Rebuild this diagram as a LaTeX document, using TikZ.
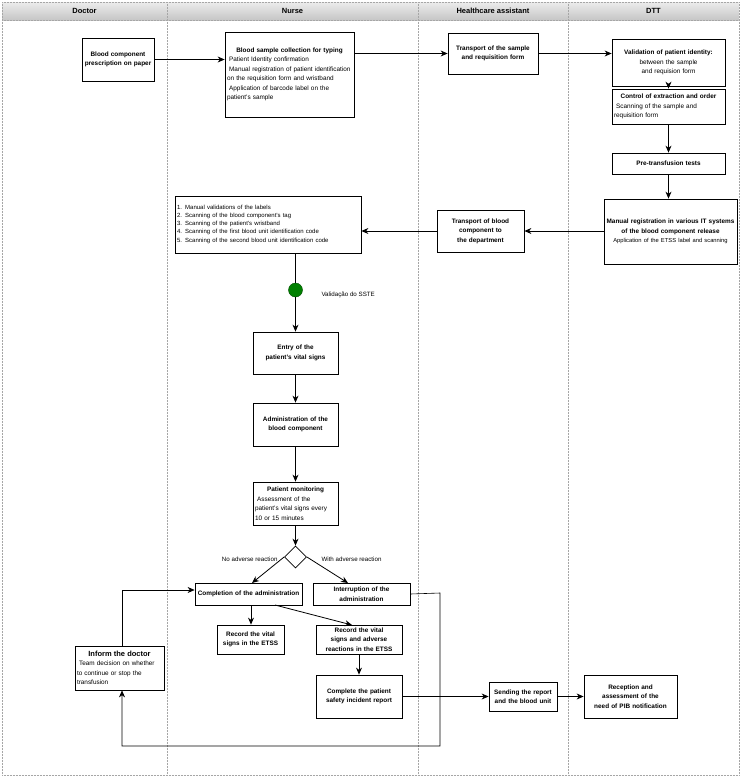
\documentclass[tikz,border=0pt]{standalone}
\usepackage{fontspec}
\setmainfont{Liberation Sans}
\usetikzlibrary{arrows.meta,shapes.geometric}
\hyphenpenalty=10000 \exhyphenpenalty=10000
\begin{document}
\begin{tikzpicture}[x=1pt,y=-1pt,
  box/.style={draw,line width=0.8pt,fill=white,inner sep=1pt,font=\fontsize{6.4}{9.5}\selectfont},
  arr/.style={-{Stealth[length=7pt,width=6pt]},line width=0.8pt},
  lane/.style={draw=gray!70,densely dotted,line width=0.5pt},
  lbl/.style={font=\fontsize{6.2}{7}\selectfont}]
\useasboundingbox (0,0) rectangle (741,777);
% header
\shade[top color=gray!15,bottom color=gray!45] (2,2) rectangle (739,20);
\foreach \x in {2,167,418,568,739} \draw[lane] (\x,2) -- (\x,775);
\draw[lane] (2,2) -- (739,2);
\draw[lane] (2,20) -- (739,20);
\draw[lane] (2,775) -- (739,775);
\tikzset{hd/.style={font=\fontsize{7.5}{9}\selectfont\bfseries}}
\node[hd] (hD) at (84.5,11) {Doctor};
\node[hd] (hN) at (292.5,11) {Nurse};
\node[hd] (hH) at (493,11) {Healthcare assistant};
\node[hd] (hT) at (653.5,11) {DTT};
\newcommand{\mybox}[6][]{\node[box,minimum width=#4-#2,minimum height=#5-#3,text width=#4-#2-4,execute at begin node={\hyphenpenalty=10000\exhyphenpenalty=10000},#1] (#6) at ({(#2+#4)/2},{(#3+#5)/2})}
\mybox[align=center]{82}{38}{154}{81}{presc}{\textbf{Blood component prescription on paper}};
\mybox[align=left]{225}{32}{354}{117}{coll}{\centering\textbf{Blood sample collection for typing}\par\raggedright\ Patient Identity confirmation\par\ Manual registration of patient identification on the requisition form and wristband\par\ Application of barcode label on the patient's sample};
\mybox[align=center]{448}{33}{538}{74}{trs}{\textbf{Transport of the sample and requisition form}};
\mybox[align=center]{612}{39}{725}{86}{val}{\textbf{Validation of patient identity:}\\ between the sample and requision form};
\mybox[align=left]{612}{89}{725}{124}{ctl}{\centering\textbf{Control of extraction and order}\par\raggedright\ Scanning of the sample and requisition form};
\mybox[align=center]{612}{153}{725}{174}{pre}{\textbf{Pre-transfusion tests}};
\mybox[align=center]{604}{199}{737}{264}{man}{\textbf{Manual registration in various IT systems of the blood component release}\\ {\fontsize{5.8}{8}\selectfont Application of the ETSS label and scanning}};
\mybox[align=center]{437}{210}{524}{252}{trb}{\textbf{Transport of blood component to the department}};
\mybox[align=left]{175}{196}{361}{253}{list}{\fontsize{6}{7.8}\selectfont 1. Manual validations of the labels\\2. Scanning of the blood component's tag\\3. Scanning of the patient's wristband\\4. Scanning of the first blood unit identification code\\5. Scanning of the second blood unit identification code};
\mybox[align=center]{253}{332}{338}{374}{ent}{\textbf{Entry of the patient's vital signs}};
\node[circle,draw=green!30!black,fill=green!50!black,minimum size=14pt,inner sep=0pt] (gc) at (295.5,290) {};
\node[lbl,anchor=west] (gcl) at (318,295) {Validação do SSTE};
\mybox[align=center]{253}{403}{338}{446}{adm}{\textbf{Administration of the blood component}};
\mybox[align=left]{253}{482}{338}{525}{mon}{\centering\textbf{Patient monitoring}\par\raggedright\ Assessment of the patient's vital signs every 10 or 15 minutes};
\node[diamond,draw,line width=0.8pt,fill=white,minimum size=22pt,inner sep=0pt] (dia) at (295.5,557) {};
\node[lbl,anchor=east] (nal) at (281,559) {No adverse reaction};
\node[lbl,anchor=west] (wal) at (318,559) {With adverse reaction};
\mybox[align=center]{195}{583}{302}{605}{cmp}{\textbf{Completion of the administration}};
\mybox[align=center]{313}{583}{410}{605}{int}{\textbf{Interruption of the administration}};
\mybox[align=center]{217}{625}{284}{654}{rv}{\textbf{Record the vital signs in the ETSS}};
\mybox[align=center]{316}{625}{402}{654}{rva}{\textbf{Record the vital signs and adverse reactions in the ETSS}};
\mybox[align=center]{316}{675}{402}{718}{rep}{\textbf{Complete the patient safety incident report}};
\mybox[align=left]{75}{646}{164}{690}{inf}{\centering{\fontsize{7.5}{9}\selectfont\textbf{Inform the doctor}}\par\raggedright\ Team decision on whether to continue or stop the transfusion};
\mybox[align=center]{489}{682}{557}{711}{snd}{\textbf{Sending the report and the blood unit}};
\mybox[align=center]{584}{675}{677}{718}{rec}{\textbf{Reception and assessment of the need of PIB notification}};
% arrows
\draw[arr] (presc.east) -- (presc.east -| coll.west);
\draw[arr] (coll.east |- trs.west) -- (trs.west);
\draw[arr] (trs.east) -- (trs.east -| val.west);
\draw[arr] (val) -- (ctl);
\draw[arr] (ctl) -- (pre);
\draw[arr] (pre) -- (pre |- man.north);
\draw[arr] (man.west |- trb.east) -- (trb.east);
\draw[arr] (trb.west) -- (trb.west -| list.east);
\draw[line width=0.8pt] (list.south -| gc) -- (gc);
\draw[arr] (gc) -- (gc |- ent.north);
\draw[arr] (ent) -- (adm);
\draw[arr] (adm) -- (mon);
\draw[arr] (mon) -- (dia);
\draw[arr] (dia.west) -- (252,583);
\draw[arr] (dia.east) -- (348,583);
\draw[arr] (251,605) -- (rv.north -| 251,0);
\draw[arr] (275,605) -- (352,625);
\draw[arr] (rva) -- (rep);
\draw[arr] (rep.east |- snd.west) -- (snd.west);
\draw[arr] (snd.east) -- (snd.east -| rec.west);
\draw[arr,line width=0.6pt] (int.east) -- (440,593) -- (440,746) -- (122,746) -- (inf.south -| 122,0);
\draw[arr,line width=0.6pt] (inf.north -| 122,0) -- (122,590) -- (cmp.west |- 0,590);
\end{tikzpicture}
\end{document}
